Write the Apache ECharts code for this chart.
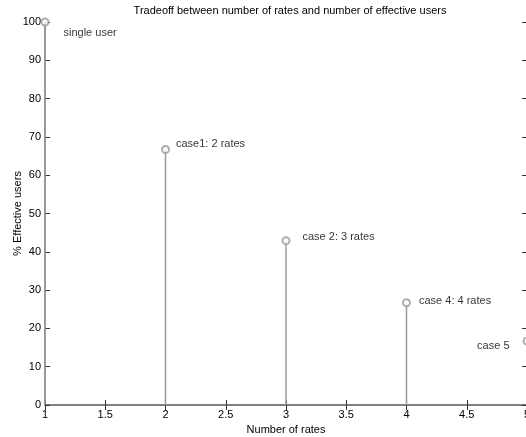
<!DOCTYPE html>
<html>
<head>
<meta charset="utf-8">
<script src="https://cdn.jsdelivr.net/npm/echarts@6/dist/echarts.min.js"></script>
<style>
  html, body { margin: 0; padding: 0; background: #fff; }
  #chart { width: 526px; height: 437px; }
</style>
</head>
<body>
<div id="chart"></div>
<script>
// stem data
const rates = [1, 2, 3, 4, 5]
const effectiveUsers = [100, 66.7, 42.9, 26.7, 16.7]
const caseLabels = ['single user', 'case1: 2 rates', 'case 2: 3 rates', 'case 4: 4 rates', 'case 5']

const font = 'Liberation Sans, Arial, sans-serif'
const stemGray = '#9a9a9a'
const axisGray = '#7a7a7a'

// where each annotation sits relative to its point
const labelPlacement = [
  { position: 'right', offset: [9, 11] },
  { position: 'right', offset: [1, -6] },
  { position: 'right', offset: [7, -4] },
  { position: 'right', offset: [3, -2] },
  { position: 'left', offset: [-8, 5] },
]

const chart = echarts.init(document.getElementById('chart'))

const tickStyle = { show: true, inside: true, length: 5, lineStyle: { color: '#333', width: 1 } }
const lineStyle = { show: true, lineStyle: { color: axisGray, width: 1.5 } }

chart.setOption({
  animation: false,
  textStyle: { fontFamily: font },
  title: {
    text: 'Tradeoff between number of rates and number of effective users',
    left: 285,
    textAlign: 'center',
    top: 0,
    textStyle: { fontSize: 11, fontWeight: 'normal', color: '#000', fontFamily: font },
  },
  grid: { left: 45, right: -1, top: 22, bottom: 32, outerBoundsMode: 'none', containLabel: false },
  xAxis: [
    {
      type: 'value',
      min: 1,
      max: 5,
      interval: 0.5,
      name: 'Number of rates',
      nameLocation: 'middle',
      nameGap: 18,
      nameTextStyle: { fontSize: 11, color: '#000', fontFamily: font },
      axisLine: lineStyle,
      axisTick: tickStyle,
      axisLabel: { fontSize: 11, color: '#000', margin: 4, fontFamily: font },
      splitLine: { show: false },
    },
    {
      type: 'value',
      position: 'top',
      min: 1,
      max: 5,
      interval: 0.5,
      axisLine: lineStyle,
      axisTick: tickStyle,
      axisLabel: { show: false },
      splitLine: { show: false },
    },
  ],
  yAxis: [
    {
      type: 'value',
      min: 0,
      max: 100,
      interval: 10,
      name: '% Effective users',
      nameLocation: 'middle',
      nameGap: 22,
      nameMoveOverlap: false,
      nameTextStyle: { fontSize: 11, color: '#000', fontFamily: font },
      axisLine: lineStyle,
      axisTick: tickStyle,
      axisLabel: { fontSize: 11, color: '#000', margin: 4, fontFamily: font },
      splitLine: { show: false },
    },
    {
      type: 'value',
      position: 'right',
      min: 0,
      max: 100,
      interval: 10,
      axisLine: lineStyle,
      axisTick: tickStyle,
      axisLabel: { show: false },
      splitLine: { show: false },
    },
  ],
  series: [
    {
      type: 'bar',
      barWidth: 1.5,
      itemStyle: { color: stemGray },
      data: rates.map((r, i) => [r, effectiveUsers[i]]),
      silent: true,
    },
    {
      type: 'scatter',
      symbol: 'emptyCircle',
      symbolSize: 7,
      itemStyle: { color: stemGray, borderColor: stemGray, borderWidth: 1 },
      data: rates.map((r, i) => ({
        value: [r, effectiveUsers[i]],
        label: {
          show: true,
          formatter: caseLabels[i],
          position: labelPlacement[i].position,
          offset: labelPlacement[i].offset,
          fontSize: 11,
          color: '#000',
          fontFamily: font,
        },
      })),
      z: 5,
    },
  ],
})
</script>
</body>
</html>
